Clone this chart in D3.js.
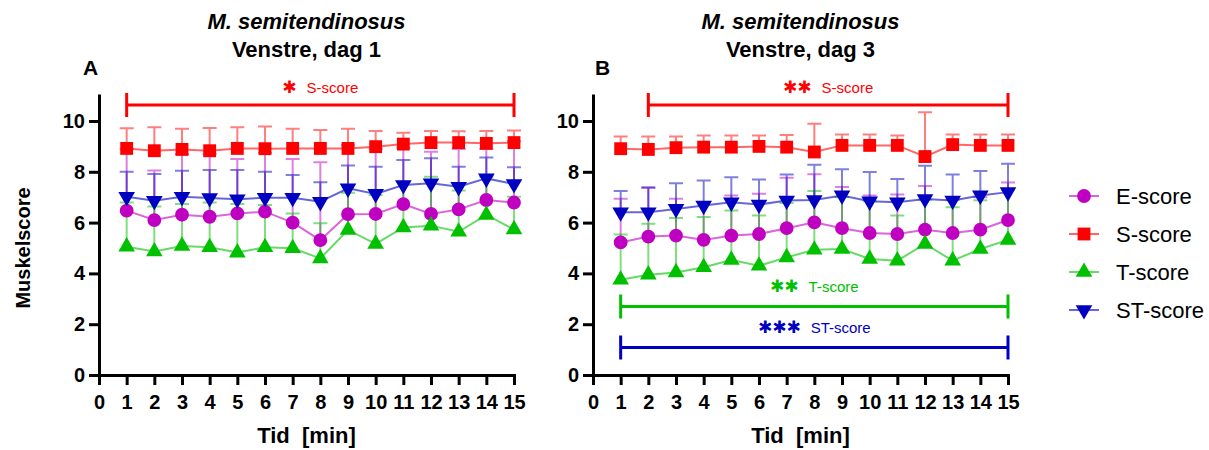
<!DOCTYPE html>
<html>
<head>
<meta charset="utf-8">
<script src="https://cdn.jsdelivr.net/npm/d3@7"></script>
<style>
  body { margin: 0; background: #fff; }
  svg { font-family: Arial, "Liberation Sans", sans-serif; }
  .axis path, .axis line { stroke: #000; stroke-width: 3px; }
  .axis text { font-size: 20px; font-weight: bold; fill: #000; }
</style>
</head>
<body>
<div id="container"></div>
<script>
const width = 1209
const height = 450

// ---------------------------- DATA ----------------------------
const tid = [1, 2, 3, 4, 5, 6, 7, 8, 9, 10, 11, 12, 13, 14, 15]
const xTicks = [0, 1, 2, 3, 4, 5, 6, 7, 8, 9, 10, 11, 12, 13, 14, 15]
const yTicks = [0, 2, 4, 6, 8, 10]
const seriesNames = ['E-score', 'S-score', 'T-score', 'ST-score']

// dag 1 (mean and mean + SD)
const dag1E = [6.47, 6.10, 6.31, 6.23, 6.36, 6.43, 6.00, 5.31, 6.33, 6.34, 6.73, 6.34, 6.52, 6.89, 6.79]
const dag1ETop = [8.90, 8.05, 8.70, 8.70, 8.50, 8.75, 8.50, 8.38, 9.05, 8.90, 8.95, 8.79, 8.90, 8.90, 9.20]
const dag1S = [8.92, 8.83, 8.88, 8.83, 8.92, 8.91, 8.92, 8.92, 8.92, 8.99, 9.09, 9.15, 9.15, 9.12, 9.15]
const dag1STop = [9.71, 9.75, 9.69, 9.72, 9.75, 9.78, 9.69, 9.65, 9.69, 9.61, 9.54, 9.61, 9.60, 9.61, 9.63]
const dag1T = [5.05, 4.86, 5.08, 5.03, 4.82, 5.03, 4.99, 4.59, 5.71, 5.16, 5.81, 5.88, 5.64, 6.30, 5.73]
const dag1TTop = [6.79, 6.63, 6.73, 6.79, 6.73, 6.69, 6.36, 5.97, 7.18, 7.09, 7.61, 7.81, 7.26, 7.80, 7.02]
const dag1ST = [7.02, 6.86, 7.02, 6.97, 6.92, 6.98, 6.98, 6.82, 7.35, 7.13, 7.48, 7.55, 7.41, 7.74, 7.52]
const dag1STTop = [8.00, 7.91, 8.04, 8.07, 8.07, 8.00, 7.87, 7.59, 8.25, 8.20, 8.46, 8.53, 8.20, 8.56, 8.18]

// dag 3
const dag3E = [5.22, 5.45, 5.49, 5.32, 5.49, 5.55, 5.78, 6.01, 5.78, 5.59, 5.55, 5.72, 5.59, 5.72, 6.10]
const dag3ETop = [6.94, 7.36, 6.94, 6.81, 7.07, 7.14, 7.77, 7.90, 7.40, 7.07, 7.11, 7.44, 6.90, 7.00, 7.58]
const dag3S = [8.91, 8.88, 8.95, 8.97, 8.97, 9.00, 8.97, 8.78, 9.04, 9.04, 9.04, 8.60, 9.07, 9.04, 9.04]
const dag3STop = [9.39, 9.39, 9.39, 9.43, 9.43, 9.43, 9.45, 9.89, 9.47, 9.47, 9.43, 10.34, 9.47, 9.47, 9.47]
const dag3T = [3.75, 3.95, 4.04, 4.24, 4.53, 4.30, 4.63, 4.93, 4.96, 4.57, 4.50, 5.16, 4.50, 4.96, 5.32]
const dag3TTop = [5.53, 5.95, 6.18, 6.22, 6.48, 6.28, 6.77, 7.24, 7.00, 6.84, 6.28, 6.90, 6.60, 6.88, 7.30]
const dag3ST = [6.41, 6.41, 6.54, 6.67, 6.80, 6.71, 6.87, 6.89, 7.07, 6.84, 6.80, 6.93, 6.87, 7.07, 7.20]
const dag3STTop = [7.24, 7.39, 7.55, 7.66, 7.79, 7.70, 7.89, 8.28, 8.10, 7.99, 7.72, 8.24, 7.89, 8.03, 8.32]

// significance brackets: series, stars, from, to
const dag1Sig = [['S-score', '\u2731', 1, 15]]
const dag3Sig = [['S-score', '\u2731\u2731', 2, 15], ['T-score', '\u2731\u2731', 1, 15], ['ST-score', '\u2731\u2731\u2731', 1, 15]]

// ---------------------------- STYLE ----------------------------
const colors = { 'E-score': '#c000c0', 'S-score': '#ff0000', 'T-score': '#00c000', 'ST-score': '#0000c0' }
const shapes = {
    'E-score': d3.symbol().type(d3.symbolCircle).size(150),
    'S-score': d3.symbol().type(d3.symbolSquare).size(165),
    'T-score': d3.symbol().type(d3.symbolTriangle).size(120),
    'ST-score': d3.symbol().type(d3.symbolTriangle).size(120)
}
// bracket level / label baseline level in data units
const sigLevels = { 'S-score': [10.63, 11.12], 'T-score': [2.7, 3.28], 'ST-score': [1.08, 1.67] }

const svg = d3.select('div#container').append('svg')
    .attr('width', width)
    .attr('height', height)

const panels = [
    { left: 99, title: 'Venstre, dag 1', letter: 'A', lx: 83, series: [dag1E, dag1S, dag1T, dag1ST], tops: [dag1ETop, dag1STop, dag1TTop, dag1STTop], sig: dag1Sig },
    { left: 593, title: 'Venstre, dag 3', letter: 'B', lx: 595, series: [dag3E, dag3S, dag3T, dag3ST], tops: [dag3ETop, dag3STop, dag3TTop, dag3STTop], sig: dag3Sig }
]

panels.forEach((p, pi) => {
    const xScale = d3.scaleLinear().domain([0, 15]).range([p.left, p.left + 415])
    const yScale = d3.scaleLinear().domain([0, 11]).range([375, 95.6])
    const g = svg.append('g')

    // ----- axes -----
    g.append('g')
        .attr('class', 'axis')
        .attr('transform', 'translate(0,375)')
        .call(d3.axisBottom(xScale).tickValues(xTicks).tickSize(10).tickSizeOuter(0).tickPadding(10))

    g.append('g')
        .attr('class', 'axis')
        .attr('transform', 'translate(' + p.left + ',0)')
        .call(d3.axisLeft(yScale).tickValues(yTicks).tickSize(10).tickSizeOuter(0).tickPadding(4))

    g.selectAll('.axis .domain').attr('stroke-linecap', 'square')

    // ----- titles -----
    const cx = xScale(7.5)
    g.append('text').attr('x', cx).attr('y', 29).attr('text-anchor', 'middle')
        .style('font-size', '22px').style('font-weight', 'bold').style('font-style', 'italic')
        .text('M. semitendinosus')
    g.append('text').attr('x', cx).attr('y', 57).attr('text-anchor', 'middle')
        .style('font-size', '22px').style('font-weight', 'bold')
        .text(p.title)
    g.append('text').attr('x', p.lx).attr('y', 75)
        .style('font-size', '21px').style('font-weight', 'bold')
        .text(p.letter)
    g.append('text').attr('x', xScale(7.5)).attr('y', 443).attr('text-anchor', 'middle')
        .style('font-size', '22px').style('font-weight', 'bold').style('white-space', 'pre')
        .text('Tid  [min]')

    // ----- significance brackets -----
    p.sig.forEach(([name, stars, from, to]) => {
        const c = colors[name]
        const yb = yScale(sigLevels[name][0])
        g.append('path')
            .attr('d', 'M' + xScale(from) + ',' + yb + 'H' + xScale(to)
                + 'M' + xScale(from) + ',' + (yb - 12) + 'V' + (yb + 12)
                + 'M' + xScale(to) + ',' + (yb - 12) + 'V' + (yb + 12))
            .attr('stroke', c).attr('stroke-width', 3).attr('fill', 'none')
        const lab = g.append('text')
            .attr('x', xScale((from + to) / 2))
            .attr('y', yScale(sigLevels[name][1]))
            .attr('text-anchor', 'middle')
            .attr('fill', c)
        lab.append('tspan').style('font-family', 'DejaVu Sans').style('font-size', '17px').text(stars)
        lab.append('tspan').attr('dx', 10).style('font-size', '15px').text(name)
    })

    // ----- error bars -----
    p.series.forEach((vals, si) => {
        const c = colors[seriesNames[si]]
        const tops = p.tops[si]
        g.append('g').selectAll('path')
            .data(tid)
            .join('path')
            .attr('d', (d, i) => 'M' + xScale(d) + ',' + yScale(vals[i]) + 'V' + yScale(tops[i])
                + 'M' + (xScale(d) - 7) + ',' + yScale(tops[i]) + 'H' + (xScale(d) + 7))
            .attr('stroke', c).attr('stroke-width', 2).attr('stroke-opacity', 0.5).attr('fill', 'none')
    })

    // ----- lines -----
    p.series.forEach((vals, si) => {
        const line = d3.line().x((d, i) => xScale(d)).y((d, i) => yScale(vals[i]))
        g.append('path')
            .attr('d', line(tid))
            .attr('stroke', colors[seriesNames[si]]).attr('stroke-width', 2).attr('stroke-opacity', 0.6)
            .attr('fill', 'none')
    })

    // ----- markers -----
    p.series.forEach((vals, si) => {
        const name = seriesNames[si]
        g.append('g').selectAll('path')
            .data(tid)
            .join('path')
            .attr('d', shapes[name])
            .attr('transform', (d, i) => 'translate(' + xScale(d) + ',' + yScale(vals[i]) + ')' + (name === 'ST-score' ? ' rotate(180)' : ''))
            .attr('fill', colors[name])
    })
})

// y axis title
svg.append('text')
    .attr('transform', 'translate(30,248) rotate(-90)')
    .attr('text-anchor', 'middle')
    .style('font-size', '20px').style('font-weight', 'bold')
    .text('Muskelscore')

// ----- legend -----
const legend = svg.append('g')
    .selectAll('g')
    .data(seriesNames)
    .join('g')
    .attr('transform', (d, i) => 'translate(1084,' + (196 + i * 38) + ')')

legend.append('line')
    .attr('x1', -15).attr('x2', 15)
    .attr('stroke', d => colors[d]).attr('stroke-width', 2).attr('stroke-opacity', 0.6)
legend.append('path')
    .attr('d', d => shapes[d]())
    .attr('transform', d => d === 'ST-score' ? 'rotate(180)' : null)
    .attr('fill', d => colors[d])
legend.append('text')
    .attr('x', 32).attr('dy', '0.35em')
    .style('font-size', '22px')
    .text(d => d)
</script>
</body>
</html>
